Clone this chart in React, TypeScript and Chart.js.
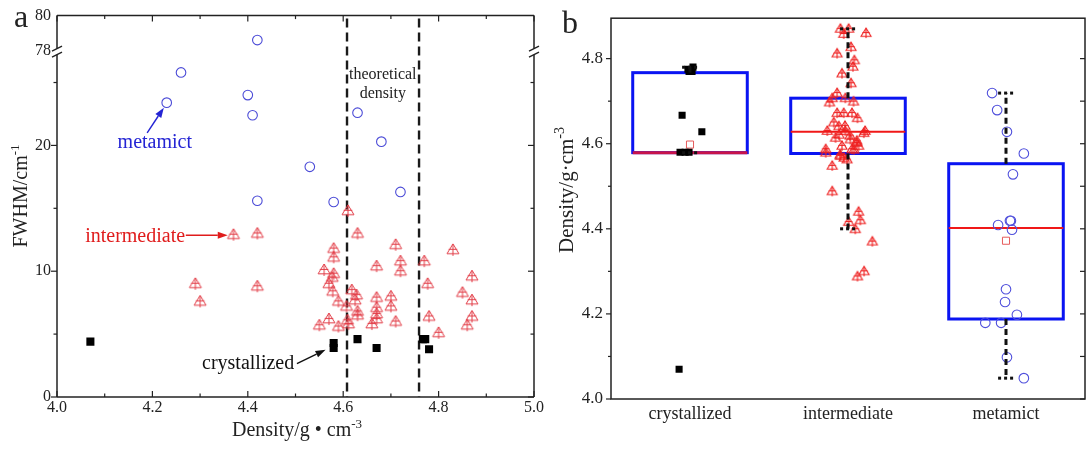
import React, { useEffect, useRef } from 'react';
import { Chart, registerables } from 'chart.js';

Chart.register(...registerables);

const FONT = '"Liberation Serif", "Times New Roman", serif';

// ---------------- Panel a: FWHM vs density ----------------
const crystDensityA = [4.07, 4.58, 4.58, 4.63, 4.67, 4.767, 4.772, 4.78];
const crystFwhmA = [4.4, 4.3, 3.9, 4.6, 3.9, 4.6, 4.6, 3.8];

const interDensityA = [
  4.37, 4.42, 4.29, 4.30, 4.42, 4.61, 4.63, 4.58, 4.58, 4.71,
  4.83, 4.56, 4.58, 4.577, 4.57, 4.578, 4.67, 4.72, 4.72, 4.77,
  4.777, 4.87, 4.85, 4.87, 4.87, 4.86, 4.80, 4.78, 4.71, 4.70,
  4.70, 4.67, 4.67, 4.67, 4.67, 4.66, 4.618, 4.628, 4.625, 4.607,
  4.63, 4.63, 4.59, 4.609, 4.57, 4.55, 4.59, 4.611,
];
const interFwhmA = [
  12.9, 13.0, 9.0, 7.6, 8.8, 14.8, 13.0, 11.8, 11.1, 12.1,
  11.7, 10.1, 9.8, 9.5, 9.0, 8.4, 10.4, 10.8, 10.0, 10.8,
  9.0, 9.6, 8.3, 7.7, 6.4, 5.7, 5.1, 6.4, 6.0, 8.0,
  7.2, 7.9, 7.1, 6.6, 6.2, 5.8, 8.5, 8.1, 7.7, 7.2,
  6.8, 6.5, 7.6, 6.1, 6.2, 5.7, 5.6, 5.8,
];

const metaDensityA = [4.23, 4.26, 4.40, 4.41, 4.42, 4.42, 4.53, 4.58, 4.63, 4.68, 4.72];
const metaFwhmA = [23.4, 25.8, 24.0, 22.4, 78.6, 15.6, 18.3, 15.5, 22.6, 20.3, 16.3];

const theoreticalDensityA = [4.608, 4.759];

const xTickValsA = [4.0, 4.2, 4.4, 4.6, 4.8, 5.0];
const xMinorA = [4.0, 4.1, 4.2, 4.3, 4.4, 4.5, 4.6, 4.7, 4.8, 4.9, 5.0];
const yTickValsA = [0, 5, 10, 15, 20, 25, 78, 80];
const yTickLabelsA = ['0', '', '10', '', '20', '', '78', '80'];
const yFrameTicksA = [0, 5, 10, 15, 20, 25];

// broken axis: lower segment 0..~27.4, upper segment 78..80
const UPPER_BASE = 27.54;
const UPPER_SCALE = 1.39;
const BREAK_AT = 27.45;
function yMapA(v: number) {
  return v < 50 ? v : UPPER_BASE + (v - 78) * UPPER_SCALE;
}

// ---------------- Panel b: box plots ----------------
const categoriesB = ['crystallized', 'intermediate', 'metamict'];

const crystDensityB = [4.07, 4.77, 4.77, 4.78, 4.775, 4.667, 4.628, 4.58, 4.58, 4.58];
const crystJitterB = [-0.069, -0.006, 0.013, 0.019, -0.013, -0.05, 0.075, -0.063, -0.031, -0.006];

const interDensityB = [
  4.870, 4.870, 4.860, 4.858, 4.812, 4.827, 4.796, 4.781, 4.765, 4.742,
  4.719, 4.707, 4.697, 4.707, 4.699, 4.672, 4.672, 4.672, 4.630, 4.641,
  4.630, 4.630, 4.614, 4.610, 4.602, 4.595, 4.587, 4.579, 4.571, 4.587,
  4.595, 4.563, 4.548, 4.488, 4.440, 4.420, 4.416, 4.399, 4.370, 4.288,
  4.300, 4.621, 4.642, 4.619, 4.586, 4.574, 4.567, 4.607, 4.625, 4.650,
  4.660,
];
const interJitterB = [
  -0.048, 0.004, 0.114, -0.027, -0.069, 0.019, 0.040, 0.031, -0.038, 0.019,
  -0.069, -0.100, -0.117, -0.017, 0.035, -0.069, -0.027, 0.025, -0.131, -0.058,
  -0.017, 0.108, -0.079, 0.015, 0.056, -0.038, -0.141, -0.141, -0.048, 0.025,
  0.067, -0.006, -0.100, -0.100, 0.067, 0.078, 0.004, 0.046, 0.154, 0.060,
  0.102, -0.056, -0.019, 0.013, 0.038, -0.050, -0.025, 0.056, 0.100, -0.090,
  0.060,
];

const metaDensityB = [
  4.719, 4.679, 4.628, 4.577, 4.528, 4.409, 4.419, 4.419, 4.398, 4.258,
  4.228, 4.198, 4.179, 4.179, 4.098, 4.049,
];
const metaJitterB = [
  -0.088, -0.056, 0.006, 0.113, 0.044, -0.05, 0.031, 0.025, 0.038, 0.0,
  -0.006, 0.069, -0.131, -0.031, 0.006, 0.113,
];

const boxQ1 = [4.579, 4.577, 4.188];
const boxQ3 = [4.767, 4.707, 4.553];
const boxMedian = [4.579, 4.628, 4.402];
const boxMean = [4.598, null, 4.372];
const whiskerLow = [4.579, 4.40, 4.049];
const whiskerHigh = [4.78, 4.87, 4.719];

const yTickValsB = [4.0, 4.2, 4.4, 4.6, 4.8];
const yFrameTicksB = [4.0, 4.1, 4.2, 4.3, 4.4, 4.5, 4.6, 4.7, 4.8];

const BOX_HALF = 0.3625;
const CAP_HALF = 0.05;

// ---------------- helpers ----------------
function makeTriMarker(color: string, size: number, lw: number) {
  const pad = 2;
  const c = document.createElement('canvas');
  c.width = size + pad * 2;
  c.height = size + pad * 2;
  const g = c.getContext('2d') as CanvasRenderingContext2D;
  const cx = c.width / 2;
  const top = pad;
  const base = pad + size * 0.82;
  const bottom = pad + size;
  g.strokeStyle = color;
  g.lineWidth = lw;
  g.beginPath();
  g.moveTo(cx, top);
  g.lineTo(pad + size, base);
  g.lineTo(pad, base);
  g.closePath();
  g.stroke();
  g.beginPath();
  g.moveTo(cx, top);
  g.lineTo(cx, bottom);
  const mid = top + (base - top) * 0.55;
  const half = size * 0.36;
  g.moveTo(cx - half, mid);
  g.lineTo(cx + half, mid);
  g.stroke();
  return c;
}

type Part = { text: string; sup?: boolean };

function drawRich(ctx: any, parts: Part[], x: number, y: number, size: number, color: string, rotate: boolean) {
  ctx.save();
  ctx.translate(x, y);
  if (rotate) ctx.rotate(-Math.PI / 2);
  const supSize = Math.round(size * 0.65);
  let total = 0;
  const widths = parts.map((p) => {
    ctx.font = `${p.sup ? supSize : size}px ${FONT}`;
    const w = ctx.measureText(p.text).width;
    total += w;
    return w;
  });
  let cx = -total / 2;
  ctx.fillStyle = color;
  ctx.textBaseline = 'alphabetic';
  ctx.textAlign = 'left';
  parts.forEach((p, i) => {
    ctx.font = `${p.sup ? supSize : size}px ${FONT}`;
    ctx.fillText(p.text, cx, p.sup ? -size * 0.42 : 0);
    cx += widths[i];
  });
  ctx.restore();
}

function line(ctx: any, x1: number, y1: number, x2: number, y2: number) {
  ctx.beginPath();
  ctx.moveTo(x1, y1);
  ctx.lineTo(x2, y2);
  ctx.stroke();
}

function arrow(ctx: any, x1: number, y1: number, x2: number, y2: number, color: string) {
  const ang = Math.atan2(y2 - y1, x2 - x1);
  const hl = 10;
  const hw = 3.5;
  ctx.save();
  ctx.strokeStyle = color;
  ctx.fillStyle = color;
  ctx.lineWidth = 1.4;
  const bx = x2 - Math.cos(ang) * hl;
  const by = y2 - Math.sin(ang) * hl;
  line(ctx, x1, y1, bx, by);
  ctx.beginPath();
  ctx.moveTo(x2, y2);
  ctx.lineTo(bx + Math.sin(ang) * hw, by - Math.cos(ang) * hw);
  ctx.lineTo(bx - Math.sin(ang) * hw, by + Math.cos(ang) * hw);
  ctx.closePath();
  ctx.fill();
  ctx.restore();
}

function text(ctx: any, s: string, x: number, y: number, size: number, color: string, align: string) {
  ctx.save();
  ctx.font = `${size}px ${FONT}`;
  ctx.fillStyle = color;
  ctx.textAlign = align;
  ctx.textBaseline = 'alphabetic';
  ctx.fillText(s, x, y);
  ctx.restore();
}

// ---------------- Panel a config ----------------
function buildConfigA(): any {
  const triA = makeTriMarker('rgb(226,60,70)', 12, 1);
  const plugin = {
    id: 'panelA',
    beforeDatasetsDraw(chart: any) {
      const { ctx, chartArea: ca, scales } = chart;
      const x = scales.x;
      ctx.save();
      ctx.strokeStyle = '#1a1a1a';
      ctx.lineWidth = 2.4;
      ctx.setLineDash([9, 5]);
      theoreticalDensityA.forEach((d) => {
        const px = x.getPixelForValue(d);
        line(ctx, px, ca.top + 3, px, ca.bottom);
      });
      ctx.restore();
    },
    afterDraw(chart: any) {
      const { ctx, chartArea: ca, scales } = chart;
      const x = scales.x;
      const y = scales.y;
      const yb = y.getPixelForValue(BREAK_AT);
      const gap = 3;
      ctx.save();
      ctx.strokeStyle = '#222';
      ctx.lineWidth = 1.5;
      // frame with breaks
      line(ctx, ca.left, ca.top, ca.right, ca.top);
      line(ctx, ca.left, ca.bottom, ca.right, ca.bottom);
      line(ctx, ca.left, ca.top, ca.left, yb - gap);
      line(ctx, ca.left, yb + gap, ca.left, ca.bottom);
      line(ctx, ca.right, ca.top, ca.right, yb - gap);
      line(ctx, ca.right, yb + gap, ca.right, ca.bottom);
      ctx.lineWidth = 1.3;
      [ca.left, ca.right].forEach((ax) => {
        [yb - gap, yb + gap].forEach((y0) => {
          line(ctx, ax - 5, y0 + 2.5, ax + 5, y0 - 2.5);
        });
      });
      // ticks
      ctx.lineWidth = 1.2;
      xMinorA.forEach((v, k) => {
        const px = x.getPixelForValue(v);
        const len = k % 2 === 0 ? 6 : 3.5;
        line(ctx, px, ca.bottom, px, ca.bottom - len);
        line(ctx, px, ca.top, px, ca.top + len);
      });
      yFrameTicksA.forEach((v, k) => {
        const py = y.getPixelForValue(yMapA(v));
        const len = k % 2 === 0 ? 6 : 3.5;
        line(ctx, ca.left, py, ca.left - len, py);
        line(ctx, ca.right, py, ca.right - len, py);
      });
      ctx.restore();

      // titles
      drawRich(ctx, [{ text: 'Density/g • cm' }, { text: '-3', sup: true }], 297, 436, 20, '#222', false);
      drawRich(ctx, [{ text: 'FWHM/cm' }, { text: '-1', sup: true }], 27, 196, 20, '#222', true);
      text(ctx, 'a', 14, 27, 32, '#222', 'left');

      // annotations
      const P = (dx: number, dy: number) => [x.getPixelForValue(dx), y.getPixelForValue(dy)];
      let p = P(4.205, 19.8);
      text(ctx, 'metamict', p[0], p[1], 20, '#2424d4', 'center');
      let a1 = P(4.189, 21.0), a2 = P(4.224, 23.0);
      arrow(ctx, a1[0], a1[1], a2[0], a2[1], '#2424d4');
      p = P(4.059, 12.35);
      text(ctx, 'intermediate', p[0], p[1], 20, '#e01c1c', 'left');
      a1 = P(4.27, 12.86); a2 = P(4.358, 12.86);
      arrow(ctx, a1[0], a1[1], a2[0], a2[1], '#e01c1c');
      p = P(4.304, 2.2);
      text(ctx, 'crystallized', p[0], p[1], 20, '#111', 'left');
      a1 = P(4.503, 2.65); a2 = P(4.563, 3.75);
      arrow(ctx, a1[0], a1[1], a2[0], a2[1], '#111');
      p = P(4.683, 25.3);
      text(ctx, 'theoretical', p[0], p[1], 16, '#222', 'center');
      p = P(4.683, 23.75);
      text(ctx, 'density', p[0], p[1], 16, '#222', 'center');
    },
  };

  return {
    type: 'scatter',
    data: {
      datasets: [
        {
          label: 'crystallized',
          data: crystDensityA.map((d, i) => ({ x: d, y: yMapA(crystFwhmA[i]) })),
          pointStyle: 'rect',
          pointRadius: 5.7,
          backgroundColor: '#000',
          borderColor: '#000',
          borderWidth: 0,
        },
        {
          label: 'intermediate',
          data: interDensityA.map((d, i) => ({ x: d, y: yMapA(interFwhmA[i]) })),
          pointStyle: triA,
          pointRadius: 6,
        },
        {
          label: 'metamict',
          data: metaDensityA.map((d, i) => ({ x: d, y: yMapA(metaFwhmA[i]) })),
          pointStyle: 'circle',
          pointRadius: 4.8,
          backgroundColor: 'rgba(0,0,0,0)',
          borderColor: 'rgb(75,75,215)',
          borderWidth: 1.1,
        },
      ],
    },
    options: {
      animation: false,
      responsive: false,
      events: [],
      layout: { padding: { left: 0, right: 12, top: 15, bottom: 0 } },
      plugins: { legend: { display: false }, tooltip: { enabled: false } },
      scales: {
        x: {
          type: 'linear',
          min: 4.0,
          max: 5.0,
          afterBuildTicks: (s: any) => {
            s.ticks = xTickValsA.map((v) => ({ value: v }));
          },
          afterFit: (s: any) => {
            s.height = 53;
          },
          ticks: {
            callback: (v: any) => Number(v).toFixed(1),
            font: { family: FONT, size: 16 },
            color: '#222',
            padding: 1,
            maxRotation: 0,
            autoSkip: false,
          },
          grid: { display: false, drawTicks: false },
          border: { display: false },
        },
        y: {
          type: 'linear',
          min: 0,
          max: yMapA(80),
          afterBuildTicks: (s: any) => {
            s.ticks = yTickValsA.map((v) => ({ value: yMapA(v) }));
          },
          afterFit: (s: any) => {
            s.width = 57;
          },
          ticks: {
            callback: (_v: any, i: number) => yTickLabelsA[i],
            font: { family: FONT, size: 16 },
            color: '#222',
            padding: 6,
            autoSkip: false,
          },
          grid: { display: false, drawTicks: false },
          border: { display: false },
        },
      },
    },
    plugins: [plugin],
  };
}

// ---------------- Panel b config ----------------
function buildConfigB(): any {
  const triB = makeTriMarker('rgb(238,32,32)', 10, 1.1);
  const plugin = {
    id: 'panelB',
    beforeDatasetsDraw(chart: any) {
      const { ctx, scales } = chart;
      const x = scales.x;
      const y = scales.y;
      ctx.save();
      boxQ1.forEach((q1, i) => {
        const xl = x.getPixelForValue(i - BOX_HALF);
        const xr = x.getPixelForValue(i + BOX_HALF);
        const yt = y.getPixelForValue(boxQ3[i]);
        const yb = y.getPixelForValue(q1);
        ctx.strokeStyle = '#0a14f2';
        ctx.lineWidth = 3;
        ctx.strokeRect(xl, yt, xr - xl, yb - yt);
        const ym = y.getPixelForValue(boxMedian[i]);
        ctx.strokeStyle = i === 0 ? '#c8144a' : '#f01818';
        ctx.lineWidth = i === 0 ? 3 : 2;
        line(ctx, xl, ym, xr, ym);
      });
      ctx.restore();
    },
    afterDatasetsDraw(chart: any) {
      const { ctx, scales } = chart;
      const x = scales.x;
      const y = scales.y;
      ctx.save();
      ctx.strokeStyle = '#111';
      ctx.lineWidth = 3;
      ctx.setLineDash([6, 4]);
      boxQ1.forEach((q1, i) => {
        const xc = x.getPixelForValue(i);
        const cl = x.getPixelForValue(i - CAP_HALF);
        const cr = x.getPixelForValue(i + CAP_HALF);
        const yh = y.getPixelForValue(whiskerHigh[i]);
        const yl = y.getPixelForValue(whiskerLow[i]);
        const yt = y.getPixelForValue(boxQ3[i]);
        const yb = y.getPixelForValue(q1);
        if (yt - yh > 1) line(ctx, xc, yt, xc, yh);
        if (yl - yb > 1) line(ctx, xc, yb, xc, yl);
        ctx.setLineDash([3, 3]);
        line(ctx, cl, yh, cr, yh);
        line(ctx, cl, yl, cr, yl);
        ctx.setLineDash([6, 4]);
      });
      ctx.restore();
    },
    afterDraw(chart: any) {
      const { ctx, chartArea: ca, scales } = chart;
      const y = scales.y;
      ctx.save();
      ctx.strokeStyle = '#222';
      ctx.lineWidth = 1.5;
      ctx.strokeRect(ca.left, ca.top, ca.right - ca.left, ca.bottom - ca.top);
      ctx.lineWidth = 1.2;
      yFrameTicksB.forEach((v, k) => {
        const py = y.getPixelForValue(v);
        const len = k % 2 === 0 ? 5 : 3;
        line(ctx, ca.left, py, ca.left - len, py);
        line(ctx, ca.right, py, ca.right - 5, py);
      });
      ctx.restore();
      drawRich(ctx, [{ text: 'Density/g·cm' }, { text: '-3', sup: true }], 27, 190, 21, '#222', true);
      text(ctx, 'b', 16, 33, 32, '#222', 'left');
    },
  };

  return {
    type: 'scatter',
    data: {
      datasets: [
        {
          label: 'crystallized',
          data: crystDensityB.map((d, i) => ({ x: 0 + crystJitterB[i], y: d })),
          pointStyle: 'rect',
          pointRadius: 5,
          backgroundColor: '#000',
          borderColor: '#000',
          borderWidth: 0,
        },
        {
          label: 'intermediate',
          data: interDensityB.map((d, i) => ({ x: 1 + interJitterB[i], y: d })),
          pointStyle: triB,
          pointRadius: 6,
        },
        {
          label: 'metamict',
          data: metaDensityB.map((d, i) => ({ x: 2 + metaJitterB[i], y: d })),
          pointStyle: 'circle',
          pointRadius: 4.8,
          backgroundColor: 'rgba(0,0,0,0)',
          borderColor: 'rgb(80,80,220)',
          borderWidth: 1.1,
        },
        {
          label: 'mean',
          data: boxMean
            .map((m, i) => (m == null ? null : { x: i, y: m }))
            .filter((p) => p !== null),
          pointStyle: 'rect',
          pointRadius: 5,
          backgroundColor: 'rgba(0,0,0,0)',
          borderColor: 'rgb(230,90,90)',
          borderWidth: 1,
        },
      ],
    },
    options: {
      animation: false,
      responsive: false,
      events: [],
      layout: { padding: { left: 0, right: 1, top: 14, bottom: 0 } },
      plugins: { legend: { display: false }, tooltip: { enabled: false } },
      scales: {
        x: {
          type: 'linear',
          min: -0.5,
          max: 2.5,
          afterBuildTicks: (s: any) => {
            s.ticks = categoriesB.map((_c, i) => ({ value: i }));
          },
          afterFit: (s: any) => {
            s.height = 51;
          },
          ticks: {
            callback: (_v: any, i: number) => categoriesB[i],
            font: { family: FONT, size: 18 },
            color: '#222',
            padding: 4,
            maxRotation: 0,
            autoSkip: false,
          },
          grid: { display: false, drawTicks: false },
          border: { display: false },
        },
        y: {
          type: 'linear',
          min: 4.0,
          max: 4.895,
          afterBuildTicks: (s: any) => {
            s.ticks = yTickValsB.map((v) => ({ value: v }));
          },
          afterFit: (s: any) => {
            s.width = 65;
          },
          ticks: {
            callback: (v: any) => Number(v).toFixed(1),
            font: { family: FONT, size: 17 },
            color: '#222',
            padding: 8,
            autoSkip: false,
          },
          grid: { display: false, drawTicks: false },
          border: { display: false },
        },
      },
    },
    plugins: [plugin],
  };
}

export default function App() {
  const refA = useRef<HTMLCanvasElement>(null);
  const refB = useRef<HTMLCanvasElement>(null);
  useEffect(() => {
    const a = new Chart(refA.current as HTMLCanvasElement, buildConfigA());
    const b = new Chart(refB.current as HTMLCanvasElement, buildConfigB());
    return () => {
      a.destroy();
      b.destroy();
    };
  }, []);
  return (
    <div
      style={{
        position: 'fixed',
        left: 0,
        top: 0,
        width: 1092,
        height: 450,
        background: '#ffffff',
        overflow: 'hidden',
      }}
    >
      <canvas ref={refA} width={546} height={450} style={{ position: 'absolute', left: 0, top: 0 }} />
      <canvas ref={refB} width={546} height={450} style={{ position: 'absolute', left: 546, top: 0 }} />
    </div>
  );
}
